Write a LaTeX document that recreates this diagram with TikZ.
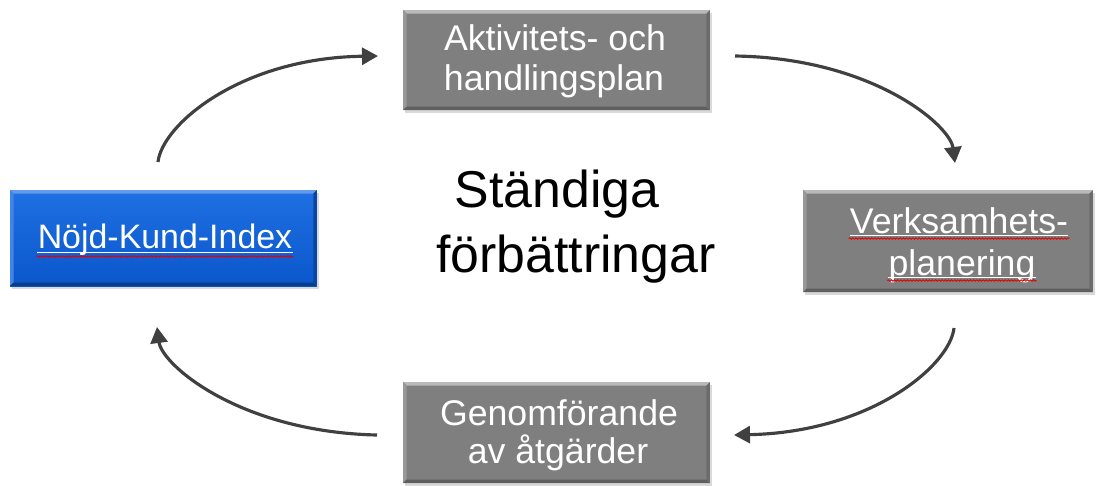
\documentclass[tikz,border=0pt]{standalone}
\usepackage{fontspec}
\setmainfont{Liberation Sans}
\usetikzlibrary{arrows.meta,shadows,decorations.pathmorphing,calc}
\definecolor{boxgray}{HTML}{7F7F7F}
\definecolor{arrowgray}{HTML}{404040}
\definecolor{bluetop}{HTML}{1F70E2}
\definecolor{bluebot}{HTML}{0A57CC}
\begin{document}
\begin{tikzpicture}[x=0.02cm,y=-0.02cm,
  bevel/.style n args={4}{path picture={
    \coordinate (pnw) at (path picture bounding box.north west);
    \coordinate (pne) at (path picture bounding box.north east);
    \coordinate (psw) at (path picture bounding box.south west);
    \coordinate (pse) at (path picture bounding box.south east);
    \fill[#1] (pnw) -- (pne) -- ([shift={(-0.07cm,-0.07cm)}]pne) -- ([shift={(0.07cm,-0.07cm)}]pnw) -- cycle;
    \fill[#2] (pnw) -- ([shift={(0.07cm,-0.07cm)}]pnw) -- ([shift={(0.07cm,0.07cm)}]psw) -- (psw) -- cycle;
    \fill[#3] (psw) -- (pse) -- ([shift={(-0.07cm,0.07cm)}]pse) -- ([shift={(0.07cm,0.07cm)}]psw) -- cycle;
    \fill[#4] (pne) -- (pse) -- ([shift={(-0.07cm,0.07cm)}]pse) -- ([shift={(-0.07cm,-0.07cm)}]pne) -- cycle;
  }},
  box/.style={rectangle, inner sep=0pt, draw=none,
    drop shadow={shadow xshift=0.04cm, shadow yshift=-0.05cm, opacity=0.3}},
  graybox/.style={box, fill=boxgray, bevel={boxgray!55!white}{boxgray!80!white}{boxgray!75!black}{boxgray!85!black}},
  bluebox/.style={box, top color=bluetop, bottom color=bluebot, bevel={bluetop!70!white}{bluetop!85!white}{bluebot!70!black}{bluebot!80!black}},
  lbl/.style={text=white, inner sep=0pt, anchor=base, font=\fontsize{20.3}{24}\selectfont},
  big/.style={text=black, inner sep=0pt, anchor=base, font=\fontsize{29.5}{36}\selectfont},
  uline/.style={draw=white, line width=0.6pt},
  wavy/.style={draw=red!90!black, line width=0.5pt, decorate,
    decoration={snake, amplitude=0.4pt, segment length=1.8pt}},
  arr/.style={draw=arrowgray, line width=1.8pt, -{Triangle[length=0.32cm,width=0.34cm]}}
]
\useasboundingbox (0,0) rectangle (1097,485);

% boxes
\node[bluebox, minimum width=6.14cm, minimum height=1.92cm] (nki) at (163.5,238) {};
\node[graybox, minimum width=6.14cm, minimum height=2.0cm] (akt) at (556.5,60) {};
\node[graybox, minimum width=5.8cm, minimum height=2.04cm] (ver) at (948,241) {};
\node[graybox, minimum width=6.14cm, minimum height=2.02cm] (gen) at (556.5,432.5) {};

% labels
\node[lbl, font=\fontsize{19.3}{23}\selectfont] (nkit) at (165,248) {Nöjd-Kund-Index};
\node[lbl] (akt1) at (555,50) {Aktivitets- och};
\node[lbl] (akt2) at (554,90) {handlingsplan};
\node[lbl] (ver1) at (959,233) {Verksamhets-};
\node[lbl] (ver2) at (962,275) {planering};
\node[lbl] (gen1) at (559,425) {Genomförande};
\node[lbl] (gen2) at (558,463) {av åtgärder};

% underlines
\draw[uline] ($(nkit.base west)+(0,4.5)$) -- ($(nkit.base east)+(0,4.5)$);
\draw[wavy] ($(nkit.base west)+(-1,8.5)$) -- ($(nkit.base east)+(1,8.5)$);
\draw[uline] ($(ver1.base west)+(0,2.5)$) -- ($(ver1.base east)+(0,2.5)$);
\draw[wavy] ($(ver1.base west)+(-1,5.5)$) -- ($(ver1.base east)+(1,5.5)$);
\draw[uline] ($(ver2.base west)+(0,2.5)$) -- ($(ver2.base east)+(0,2.5)$);
\draw[wavy] ($(ver2.base west)+(-1,5.5)$) -- ($(ver2.base east)+(1,5.5)$);

% centre text
\node[big] (st1) at (557,207) {Ständiga};
\node[big] (st2) at (576,272) {förbättringar};

% arrow ends
\coordinate (a1s) at (158,162);
\coordinate (a1e) at (378,56);
\coordinate (a2s) at (735,56);
\coordinate (a2e) at (955,163);
\coordinate (a3s) at (954,328);
\coordinate (a3e) at (734,435);
\coordinate (a4s) at (377,435);
\coordinate (a4e) at (157,327);

\draw[arr] (a1s) .. controls (162,125) and (240,58) .. (a1e);
\draw[arr] (a2s) .. controls (872,58) and (950,125) .. (a2e);
\draw[arr] (a3s) .. controls (950,365) and (872,432) .. (a3e);
\draw[arr] (a4s) .. controls (240,432) and (162,365) .. (a4e);
\end{tikzpicture}
\end{document}
